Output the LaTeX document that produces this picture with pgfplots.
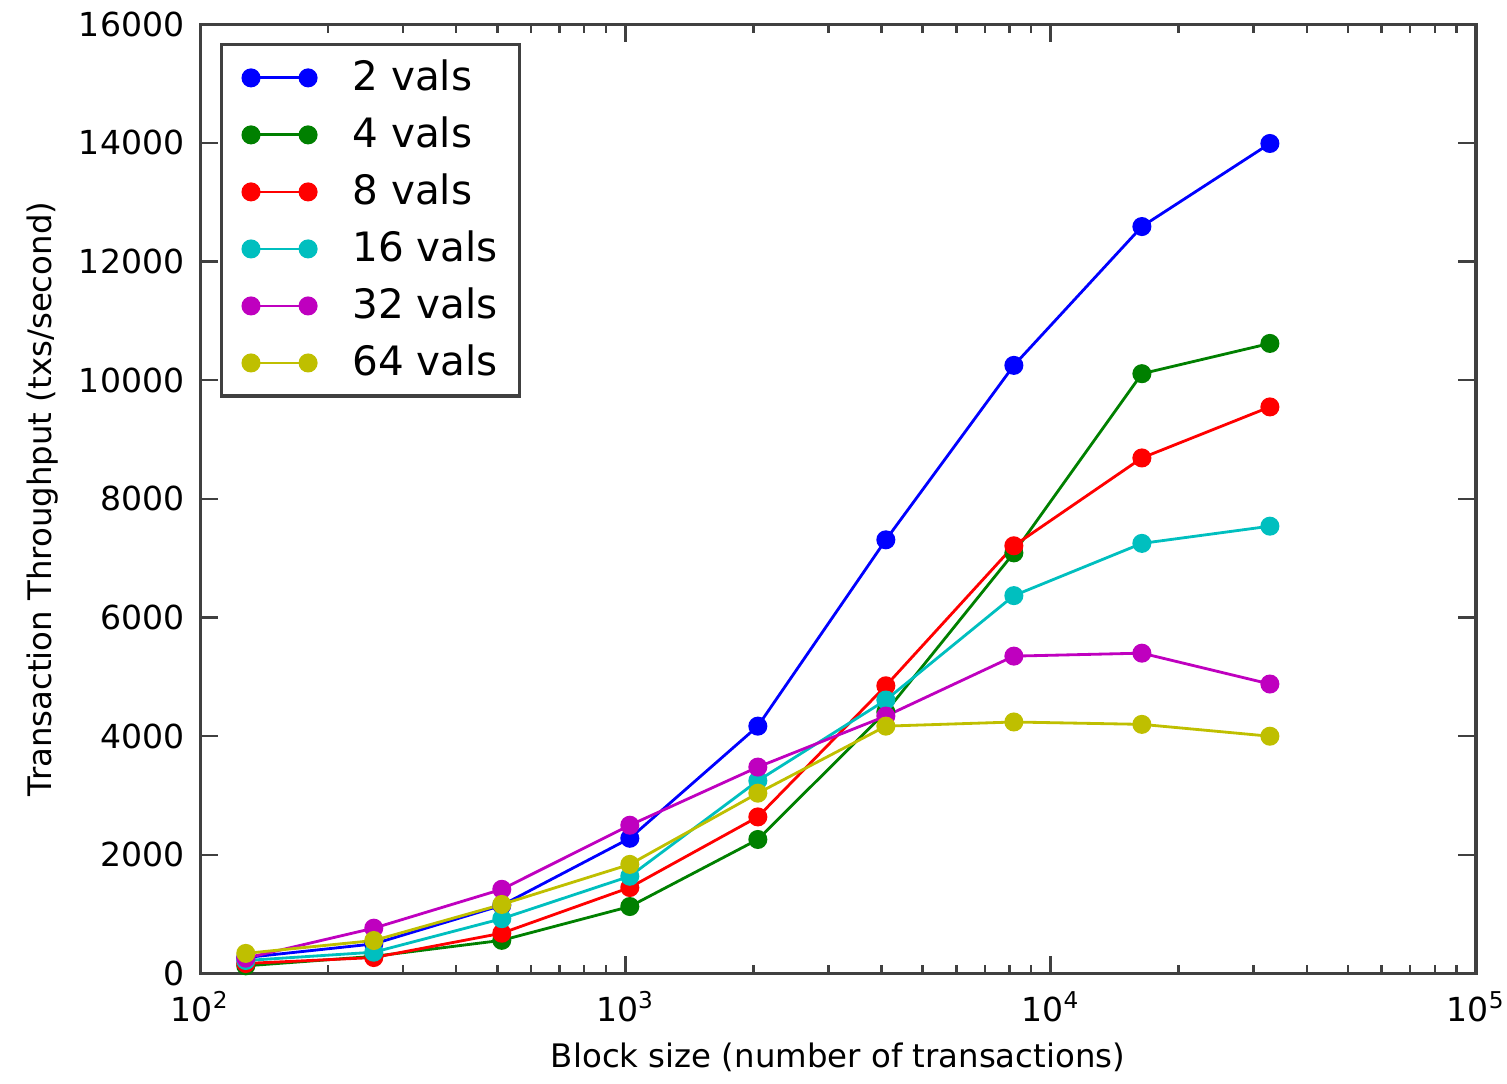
\documentclass[border=0pt]{standalone}
\usepackage{pgfplots}
\pgfplotsset{compat=1.18}
\usepackage{fontspec}
\setmainfont{DejaVu Sans}

\definecolor{mb}{rgb}{0,0,1}
\definecolor{mg}{rgb}{0,0.5,0}
\definecolor{mr}{rgb}{1,0,0}
\definecolor{mc}{rgb}{0,0.75,0.75}
\definecolor{mm}{rgb}{0.75,0,0.75}
\definecolor{my}{rgb}{0.75,0.75,0}

\begin{document}
\begin{tikzpicture}
\begin{axis}[
    scale only axis,
    width=12.74cm,
    height=9.48cm,
    xmode=log,
    xmin=100, xmax=100000,
    ymin=0, ymax=16000,
    xtick={100,1000,10000,100000},
    xticklabels={10\textsuperscript{2},10\textsuperscript{3},10\textsuperscript{4},10\textsuperscript{5}},
    ytick={0,2000,...,16000},
    scaled y ticks=false,
    yticklabel style={/pgf/number format/1000 sep={}, xshift=-1pt},
    xticklabel style={yshift=-1.5pt, inner xsep=0.5pt},
    /pgf/number format/assume math mode=true,
    tick align=inside,
    tick pos=both,
    major tick length=5pt,
    minor tick length=2.5pt,
    axis line style={black!75, line width=0.9pt},
    tick style={black!75, line width=0.7pt},
    ticklabel style={font=\fontsize{9.4}{11}\selectfont},
    label style={font=\fontsize{9.2}{11}\selectfont},
    xlabel={Block size (number of transactions)},
    ylabel={Transaction Throughput (txs/second)},
    xlabel style={yshift=1pt},
    ylabel style={inner ysep=7.5pt, yshift=-5pt},
    every axis plot/.append style={line width=0.8pt, mark=*, mark size=2.3pt,
        mark options={draw=black!70, line width=0.3pt}},
    legend image code/.code={\draw[#1] plot coordinates {(0cm,0cm) (0.57cm,0cm)};
        \path (1.0cm,0cm);},
    legend cell align=left,
    legend style={at={(rel axis cs:0.0157,0.98)}, anchor=north west,
        font=\fontsize{11.5}{13}\selectfont, draw=black!75, line width=0.9pt,
        inner xsep=6pt, inner ysep=1.3pt,
        nodes={inner xsep=0pt, inner ysep=2.6pt, text height=9pt, text depth=2pt},
        row sep=0pt},
]
\addplot[mb, mark options={fill=mb}] coordinates {
    (128,270) (256,500) (512,1150) (1024,2280) (2048,4170) (4096,7310) (8192,10250) (16384,12590) (32768,13990)
};
\addlegendentry{2 vals}
\addplot[mg, mark options={fill=mg}] coordinates {
    (128,130) (256,290) (512,560) (1024,1130) (2048,2260) (4096,4410) (8192,7090) (16384,10110) (32768,10620)
};
\addlegendentry{4 vals}
\addplot[mr, mark options={fill=mr}] coordinates {
    (128,170) (256,270) (512,680) (1024,1450) (2048,2640) (4096,4850) (8192,7210) (16384,8690) (32768,9550)
};
\addlegendentry{8 vals}
\addplot[mc, mark options={fill=mc}] coordinates {
    (128,220) (256,360) (512,925) (1024,1640) (2048,3250) (4096,4610) (8192,6370) (16384,7250) (32768,7540)
};
\addlegendentry{16 vals}
\addplot[mm, mark options={fill=mm}] coordinates {
    (128,260) (256,765) (512,1420) (1024,2500) (2048,3480) (4096,4340) (8192,5350) (16384,5400) (32768,4880)
};
\addlegendentry{32 vals}
\addplot[my, mark options={fill=my}] coordinates {
    (128,340) (256,557) (512,1165) (1024,1840) (2048,3040) (4096,4170) (8192,4240) (16384,4200) (32768,4000)
};
\addlegendentry{64 vals}
\end{axis}
\end{tikzpicture}
\end{document}
